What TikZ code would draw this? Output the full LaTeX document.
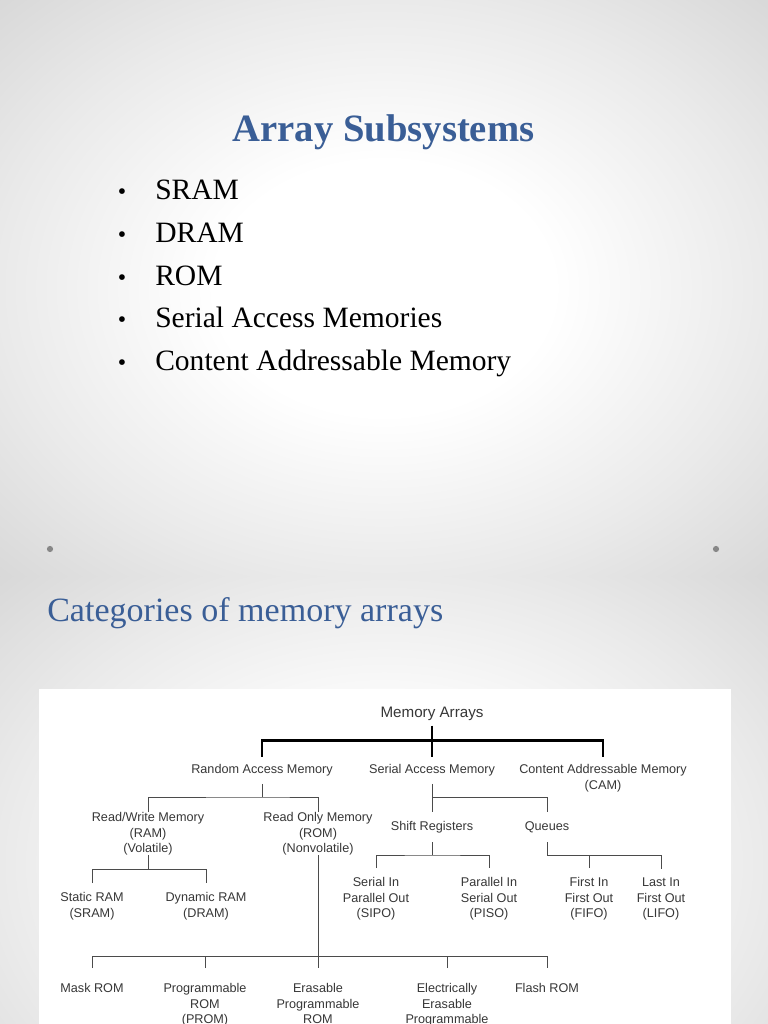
\documentclass[tikz,border=0pt]{standalone}
\usepackage{fontspec}
\setmainfont{Liberation Serif}
\newfontfamily\arial{Liberation Sans}
\definecolor{titleblue}{RGB}{58,94,150}
\definecolor{bgmid}{RGB}{234,234,234}
\definecolor{bggray}{RGB}{212,212,212}
\definecolor{dotgray}{RGB}{135,135,135}
\definecolor{txtgray}{RGB}{55,55,55}
\definecolor{linegray}{RGB}{75,75,75}
\pgfdeclareradialshading{slidebg}{\pgfpoint{0bp}{0bp}}{color(0bp)=(white); color(11bp)=(white); color(25bp)=(bgmid); color(38bp)=(bggray); color(50bp)=(bggray)}

\begin{document}
\begin{tikzpicture}[x=0.025cm,y=-0.025cm,
  title/.style={text=titleblue,inner sep=0pt},
  item/.style={font=\fontsize{21}{25}\selectfont,inner sep=0pt,anchor=base west},
  bull/.style={font=\fontsize{17}{20}\selectfont,inner sep=0pt,anchor=base},
  lbl/.style={font=\arial\fontsize{9}{11}\selectfont,text=txtgray,align=center,
    inner xsep=0pt,inner ysep=#1,anchor=base},
  lbl/.default=0pt,
  conn/.style={draw=linegray,line width=0.6pt},
  bus/.style={draw=black,line width=2.1pt}]
  \clip (0,0) rectangle (768,1024);
  % two slides
  \shade[shading=slidebg] (0,0) rectangle (768,576);
  \shade[shading=slidebg] (0,576) rectangle (768,1152);
  \fill[dotgray] (50,549) circle[radius=2.2pt];
  \fill[dotgray] (716,549) circle[radius=2.2pt];

  % slide 1
  \node[title,font=\fontsize{27.5}{33}\selectfont\bfseries,anchor=base] (t1) at (383.5,141.5) {Array Subsystems};
  \node[bull] (d1) at (122,200) {\textbullet};
  \node[item] (i1) at (155,200) {SRAM};
  \node[bull] (d2) at (122,242.5) {\textbullet};
  \node[item] (i2) at (155,242.5) {DRAM};
  \node[bull] (d3) at (122,285) {\textbullet};
  \node[item] (i3) at (155,285) {ROM};
  \node[bull] (d4) at (122,327.5) {\textbullet};
  \node[item] (i4) at (155,327.5) {Serial Access Memories};
  \node[bull] (d5) at (122,370) {\textbullet};
  \node[item] (i5) at (155,370) {Content Addressable Memory};

  % slide 2
  \node[title,font=\fontsize{24.2}{29}\selectfont,anchor=base west] (t2) at (47,621) {Categories of memory arrays};
  \fill[white] (39,689) rectangle (731,1100);

  % base = baseline of the last line
  \node[lbl=3.6pt,font=\arial\fontsize{10.8}{13}\selectfont] (ma) at (432,717) {Memory Arrays};
  \node[lbl=5.3pt] (ram) at (262,773.5) {Random Access Memory};
  \node[lbl=5.3pt] (sam) at (432,773.5) {Serial Access Memory};
  \node[lbl=5.3pt] (cam) at (603,789) {Content Addressable Memory\\(CAM)};
  \node[lbl] (rw) at (148,852.5) {Read/Write Memory\\(RAM)\\(Volatile)};
  \node[lbl] (ro) at (318,852.5) {Read Only Memory\\(ROM)\\(Nonvolatile)};
  \node[lbl=6.4pt] (sr) at (432,830.5) {Shift Registers};
  \node[lbl=6.4pt] (qu) at (547,830.5) {Queues};
  \node[lbl=6.4pt] (sram) at (92,917) {Static RAM\\(SRAM)};
  \node[lbl=6.4pt] (dram) at (206,917) {Dynamic RAM\\(DRAM)};
  \node[lbl=6.4pt] (sipo) at (376,917.5) {Serial In\\Parallel Out\\(SIPO)};
  \node[lbl=6.4pt] (piso) at (489,917.5) {Parallel In\\Serial Out\\(PISO)};
  \node[lbl=6.4pt] (fifo) at (589,917.5) {First In\\First Out\\(FIFO)};
  \node[lbl=6.4pt] (lifo) at (661,917.5) {Last In\\First Out\\(LIFO)};
  \node[lbl=10.7pt] (mask) at (92,992.5) {Mask ROM};
  \node[lbl=10.7pt] (prom) at (205,1023.5) {Programmable\\ROM\\(PROM)};
  \node[lbl=10.7pt] (eprom) at (318,1023.5) {Erasable\\Programmable\\ROM};
  \node[lbl=10.7pt] (eeprom) at (447,1023.5) {Electrically\\Erasable\\Programmable};
  \node[lbl=10.7pt] (flash) at (547,992.5) {Flash ROM};

  \coordinate (jram) at (262,797);
  \coordinate (jsam) at (432,797);
  \coordinate (jvol) at (148,869);
  \coordinate (jsr) at (432,855);
  \coordinate (jqu) at (547,855);
  \coordinate (jrom) at (318,956);

  \draw[bus] (ma.south) -- (sam.north);
  \draw[bus] (ram.north) -- ++(0,-16) -| (cam.north);
  \draw[conn] (ram.south) -- (jram);
  \draw[conn] (rw.north) |- (jram) -| (ro.north);
  \draw[conn] (sam.south) -- (sr.north);
  \draw[conn] (jsam) -| (qu.north);
  \draw[conn] (rw.south) -- (jvol);
  \draw[conn] (sram.north) |- (jvol) -| (dram.north);
  \draw[conn] (sr.south) -- (jsr);
  \draw[conn] (sipo.north) |- (jsr) -| (piso.north);
  \draw[conn] (qu.south) -- (jqu) -| (lifo.north);
  \draw[conn] (fifo.north) -- (fifo.north |- jqu);
  \draw[conn] (ro.south) -- (eprom.north);
  \draw[conn] (mask.north) |- (jrom) -| (flash.north);
  \draw[conn] (prom.north) -- (prom.north |- jrom);
  \draw[conn] (eeprom.north) -- (eeprom.north |- jrom);
\end{tikzpicture}
\end{document}
